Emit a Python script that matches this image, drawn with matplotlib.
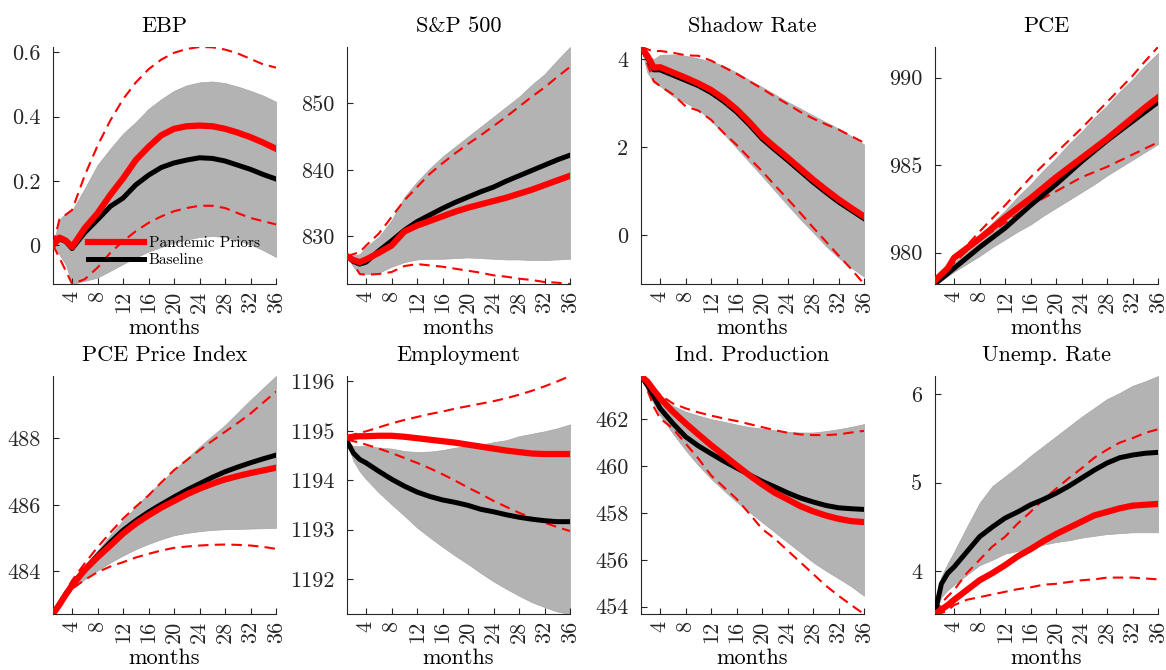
import matplotlib
matplotlib.use("Agg")
import matplotlib.pyplot as plt
import numpy as np

plt.rcParams["font.family"] = "cmr10"
plt.rcParams["mathtext.fontset"] = "cm"
plt.rcParams["axes.formatter.use_mathtext"] = True

months = [1, 2, 3, 4, 6, 8, 10, 12, 14, 16, 18, 20, 22, 24, 26, 28, 30, 32, 34, 36]
month_ticks = [4, 8, 12, 16, 20, 24, 28, 32, 36]

# EBP
ebp_pp = [0, 0.024, 0.015, -0.005, 0.054, 0.10, 0.157, 0.208, 0.265, 0.306, 0.342, 0.362, 0.370, 0.372, 0.370, 0.362, 0.350, 0.336, 0.319, 0.300]
ebp_base = [0, 0.02, 0.012, -0.01, 0.04, 0.08, 0.121, 0.147, 0.188, 0.218, 0.242, 0.256, 0.265, 0.272, 0.270, 0.262, 0.249, 0.236, 0.220, 0.206]
ebp_base_hi = [0, 0.08, 0.10, 0.108, 0.177, 0.25, 0.30, 0.347, 0.383, 0.424, 0.454, 0.48, 0.497, 0.506, 0.509, 0.504, 0.493, 0.48, 0.465, 0.446]
ebp_base_lo = [0, -0.028, -0.06, -0.12, -0.11, -0.10, -0.079, -0.058, -0.038, -0.019, -0.005, 0.008, 0.018, 0.026, 0.029, 0.026, 0.015, 0.003, -0.015, -0.036]
ebp_pp_hi = [0, 0.08, 0.095, 0.11, 0.218, 0.31, 0.388, 0.454, 0.506, 0.547, 0.577, 0.598, 0.61, 0.616, 0.615, 0.608, 0.596, 0.579, 0.562, 0.552]
ebp_pp_lo = [0, -0.038, -0.079, -0.12, -0.105, -0.069, -0.023, 0.013, 0.044, 0.07, 0.09, 0.106, 0.116, 0.123, 0.123, 0.116, 0.10, 0.085, 0.075, 0.065]

# S&P 500
sp_pp = [827.0, 826.4, 826.1, 826.5, 827.5, 828.6, 830.7, 831.6, 832.3, 833.0, 833.7, 834.3, 834.8, 835.3, 835.8, 836.4, 837.0, 837.7, 838.4, 839.1]
sp_base = [827.0, 826.2, 825.8, 826.1, 827.8, 829.3, 830.9, 832.2, 833.2, 834.2, 835.1, 835.9, 836.7, 837.4, 838.3, 839.1, 839.9, 840.7, 841.5, 842.2]
sp_base_hi = [827.0, 827.1, 827.3, 828.4, 829.9, 832.4, 835.9, 838.2, 840.2, 842.0, 843.5, 845.0, 846.5, 848.0, 849.5, 851.0, 852.8, 854.4, 856.5, 858.5]
sp_base_lo = [827.0, 825.4, 824.3, 824.3, 824.5, 825.4, 826.1, 826.5, 826.6, 826.6, 826.7, 826.8, 826.7, 826.6, 826.5, 826.5, 826.4, 826.4, 826.5, 826.6]
sp_pp_hi = [827.0, 827.3, 827.6, 828.6, 830.4, 832.9, 835.4, 837.4, 839.4, 841.0, 842.5, 843.9, 845.2, 846.6, 848.0, 849.5, 851.0, 852.4, 854.0, 855.5]
sp_pp_lo = [827.0, 825.9, 824.3, 824.2, 824.3, 824.6, 825.5, 825.8, 825.6, 825.4, 825.1, 824.8, 824.5, 824.1, 823.9, 823.6, 823.4, 823.1, 823.0, 822.8]

# Shadow Rate
sr_pp = [4.28, 4.08, 3.81, 3.82, 3.70, 3.58, 3.45, 3.30, 3.10, 2.86, 2.57, 2.25, 2.00, 1.76, 1.51, 1.26, 1.03, 0.81, 0.61, 0.42]
sr_base = [4.28, 4.05, 3.76, 3.76, 3.64, 3.52, 3.40, 3.24, 3.04, 2.80, 2.51, 2.19, 1.94, 1.70, 1.45, 1.20, 0.97, 0.75, 0.56, 0.37]
sr_base_hi = [4.28, 4.12, 4.00, 4.10, 4.11, 4.08, 4.02, 3.95, 3.85, 3.70, 3.53, 3.37, 3.20, 3.03, 2.88, 2.72, 2.57, 2.42, 2.25, 2.06]
sr_base_lo = [4.28, 3.70, 3.47, 3.39, 3.16, 3.01, 2.86, 2.60, 2.30, 1.98, 1.66, 1.34, 1.01, 0.68, 0.36, 0.06, -0.25, -0.52, -0.75, -0.95]
sr_pp_hi = [4.28, 4.23, 4.18, 4.19, 4.15, 4.09, 4.08, 3.97, 3.82, 3.67, 3.50, 3.33, 3.15, 2.98, 2.80, 2.65, 2.52, 2.40, 2.25, 2.10]
sr_pp_lo = [4.28, 3.89, 3.50, 3.39, 3.20, 2.93, 2.83, 2.62, 2.32, 2.05, 1.75, 1.45, 1.13, 0.82, 0.50, 0.17, -0.15, -0.47, -0.78, -1.12]

# PCE
pce_pp = [978.4, 978.75, 979.1, 979.7, 980.25, 980.8, 981.4, 982.0, 982.55, 983.1, 983.7, 984.3, 984.85, 985.4, 985.95, 986.5, 987.1, 987.7, 988.3, 988.86]
pce_base = [978.2, 978.5, 978.8, 979.1, 979.7, 980.3, 980.85, 981.4, 982.05, 982.7, 983.3, 983.9, 984.55, 985.2, 985.8, 986.4, 986.95, 987.5, 988.05, 988.6]
pce_base_hi = [978.3, 978.7, 979.05, 979.4, 980.2, 980.9, 981.7, 982.4, 983.2, 983.9, 984.7, 985.4, 986.2, 986.9, 987.7, 988.4, 989.2, 989.9, 990.7, 991.4]
pce_base_lo = [978.2, 978.4, 978.65, 978.9, 979.35, 979.8, 980.3, 980.75, 981.2, 981.6, 982.1, 982.55, 983.0, 983.45, 983.9, 984.4, 984.85, 985.3, 985.75, 986.2]
pce_pp_hi = [978.4, 978.8, 979.2, 979.6, 980.4, 981.2, 981.95, 982.7, 983.5, 984.3, 985.0, 985.7, 986.4, 987.1, 987.85, 988.6, 989.35, 990.1, 990.95, 991.75]
pce_pp_lo = [978.4, 978.75, 979.1, 979.4, 980.1, 980.7, 981.2, 981.7, 982.2, 982.7, 983.1, 983.5, 983.9, 984.3, 984.6, 984.9, 985.25, 985.6, 985.95, 986.3]

# PCE Price Index
pcepi_pp = [482.72, 483.0, 483.3, 483.58, 484.05, 484.43, 484.78, 485.14, 485.44, 485.69, 485.92, 486.12, 486.32, 486.49, 486.64, 486.77, 486.87, 486.96, 487.04, 487.12]
pcepi_base = [482.72, 483.02, 483.32, 483.6, 484.06, 484.48, 484.88, 485.24, 485.53, 485.79, 486.02, 486.24, 486.45, 486.64, 486.83, 487.0, 487.14, 487.27, 487.39, 487.5]
pcepi_base_hi = [482.72, 483.07, 483.4, 483.73, 484.2, 484.63, 485.1, 485.54, 485.95, 486.34, 486.7, 487.05, 487.4, 487.75, 488.08, 488.4, 488.78, 489.16, 489.52, 489.88]
pcepi_base_lo = [482.72, 482.98, 483.23, 483.48, 483.77, 484.03, 484.27, 484.48, 484.67, 484.83, 484.97, 485.09, 485.16, 485.21, 485.25, 485.27, 485.28, 485.29, 485.3, 485.31]
pcepi_pp_hi = [482.72, 483.07, 483.4, 483.73, 484.25, 484.73, 485.17, 485.59, 485.95, 486.29, 486.68, 487.05, 487.35, 487.65, 487.93, 488.2, 488.47, 488.75, 489.08, 489.41]
pcepi_pp_lo = [482.72, 482.98, 483.23, 483.48, 483.75, 483.98, 484.15, 484.28, 484.42, 484.53, 484.63, 484.71, 484.75, 484.78, 484.8, 484.81, 484.8, 484.78, 484.74, 484.68]

# Employment
emp_pp = [1194.86, 1194.88, 1194.89, 1194.89, 1194.90, 1194.90, 1194.88, 1194.85, 1194.82, 1194.79, 1194.76, 1194.72, 1194.68, 1194.64, 1194.60, 1194.57, 1194.54, 1194.53, 1194.53, 1194.53]
emp_base = [1194.79, 1194.55, 1194.42, 1194.35, 1194.18, 1194.02, 1193.88, 1193.76, 1193.67, 1193.60, 1193.55, 1193.49, 1193.41, 1193.36, 1193.30, 1193.25, 1193.21, 1193.18, 1193.16, 1193.16]
emp_base_hi = [1194.79, 1194.69, 1194.69, 1194.69, 1194.66, 1194.64, 1194.59, 1194.57, 1194.58, 1194.61, 1194.66, 1194.69, 1194.72, 1194.77, 1194.81, 1194.89, 1194.94, 1194.99, 1195.05, 1195.13]
emp_base_lo = [1194.79, 1194.39, 1194.18, 1194.02, 1193.75, 1193.51, 1193.28, 1193.04, 1192.84, 1192.65, 1192.47, 1192.30, 1192.12, 1191.95, 1191.80, 1191.66, 1191.53, 1191.43, 1191.34, 1191.29]
emp_pp_hi = [1194.89, 1194.92, 1194.96, 1194.99, 1195.07, 1195.15, 1195.22, 1195.28, 1195.34, 1195.39, 1195.45, 1195.50, 1195.55, 1195.60, 1195.66, 1195.73, 1195.81, 1195.90, 1196.00, 1196.11]
emp_pp_lo = [1194.82, 1194.79, 1194.76, 1194.72, 1194.64, 1194.55, 1194.45, 1194.35, 1194.24, 1194.12, 1193.99, 1193.85, 1193.72, 1193.58, 1193.46, 1193.34, 1193.24, 1193.14, 1193.05, 1192.97]

# Ind. Production
ip_pp = [463.84, 463.6, 463.24, 462.89, 462.32, 461.82, 461.35, 460.89, 460.46, 460.03, 459.61, 459.22, 458.86, 458.58, 458.29, 458.07, 457.89, 457.75, 457.65, 457.61]
ip_base = [463.84, 463.46, 462.96, 462.46, 461.82, 461.25, 460.86, 460.53, 460.21, 459.92, 459.63, 459.35, 459.11, 458.86, 458.64, 458.47, 458.32, 458.22, 458.18, 458.15]
ip_base_hi = [463.84, 463.6, 463.2, 462.9, 462.57, 462.32, 462.15, 462.0, 461.89, 461.77, 461.66, 461.6, 461.52, 461.46, 461.43, 461.43, 461.49, 461.57, 461.67, 461.79]
ip_base_lo = [463.84, 463.17, 462.67, 462.17, 461.39, 460.68, 460.03, 459.46, 458.96, 458.47, 458.04, 457.61, 457.18, 456.75, 456.33, 455.9, 455.54, 455.21, 454.87, 454.47]
ip_pp_hi = [463.84, 463.6, 463.3, 463.03, 462.67, 462.46, 462.29, 462.15, 462.03, 461.92, 461.79, 461.66, 461.53, 461.42, 461.35, 461.32, 461.32, 461.35, 461.43, 461.50]
ip_pp_lo = [463.84, 463.24, 462.53, 462.03, 461.6, 460.96, 460.32, 459.6, 459.1, 458.6, 457.97, 457.32, 456.9, 456.4, 455.9, 455.4, 454.9, 454.47, 454.07, 453.69]

# Unemp. Rate
ur_pp = [3.52, 3.57, 3.62, 3.68, 3.79, 3.90, 3.98, 4.07, 4.17, 4.25, 4.34, 4.42, 4.49, 4.56, 4.63, 4.67, 4.71, 4.74, 4.75, 4.76]
ur_base = [3.53, 3.86, 3.98, 4.05, 4.22, 4.39, 4.50, 4.60, 4.67, 4.75, 4.81, 4.88, 4.96, 5.05, 5.14, 5.22, 5.28, 5.31, 5.33, 5.34]
ur_base_hi = [3.52, 3.94, 4.09, 4.22, 4.50, 4.77, 4.96, 5.07, 5.18, 5.30, 5.41, 5.52, 5.63, 5.74, 5.84, 5.94, 6.01, 6.09, 6.14, 6.20]
ur_base_lo = [3.52, 3.71, 3.79, 3.85, 3.96, 4.07, 4.13, 4.20, 4.23, 4.27, 4.30, 4.33, 4.35, 4.38, 4.40, 4.42, 4.43, 4.44, 4.44, 4.44]
ur_pp_hi = [3.52, 3.64, 3.72, 3.79, 3.98, 4.13, 4.28, 4.39, 4.54, 4.67, 4.81, 4.93, 5.05, 5.16, 5.28, 5.37, 5.45, 5.50, 5.56, 5.60]
ur_pp_lo = [3.52, 3.53, 3.56, 3.62, 3.68, 3.71, 3.74, 3.77, 3.80, 3.82, 3.85, 3.86, 3.88, 3.90, 3.91, 3.93, 3.93, 3.93, 3.92, 3.91]

titles = ["EBP", "S&P 500", "Shadow Rate", "PCE",
          "PCE Price Index", "Employment", "Ind. Production", "Unemp. Rate"]
yticks = [[0, 0.2, 0.4, 0.6], [830, 840, 850], [0, 2, 4], [980, 985, 990],
          [484, 486, 488], [1192, 1193, 1194, 1195, 1196], [454, 456, 458, 460, 462], [4, 5, 6]]
ytick_labels = [["0", "0.2", "0.4", "0.6"], ["830", "840", "850"], ["0", "2", "4"], ["980", "985", "990"],
                ["484", "486", "488"], ["1192", "1193", "1194", "1195", "1196"],
                ["454", "456", "458", "460", "462"], ["4", "5", "6"]]

panels = [
    (ebp_pp, ebp_base, ebp_base_lo, ebp_base_hi, ebp_pp_lo, ebp_pp_hi),
    (sp_pp, sp_base, sp_base_lo, sp_base_hi, sp_pp_lo, sp_pp_hi),
    (sr_pp, sr_base, sr_base_lo, sr_base_hi, sr_pp_lo, sr_pp_hi),
    (pce_pp, pce_base, pce_base_lo, pce_base_hi, pce_pp_lo, pce_pp_hi),
    (pcepi_pp, pcepi_base, pcepi_base_lo, pcepi_base_hi, pcepi_pp_lo, pcepi_pp_hi),
    (emp_pp, emp_base, emp_base_lo, emp_base_hi, emp_pp_lo, emp_pp_hi),
    (ip_pp, ip_base, ip_base_lo, ip_base_hi, ip_pp_lo, ip_pp_hi),
    (ur_pp, ur_base, ur_base_lo, ur_base_hi, ur_pp_lo, ur_pp_hi),
]

axis_color = "#262626"
W, H = 1166, 670
lefts = [53, 347, 641, 935]
bottoms = [284, 614]
tops = [47, 376]
aw = 223

fig = plt.figure(figsize=(W / 100, H / 100), dpi=100)

for i, (pp, base, blo, bhi, plo, phi) in enumerate(panels):
    r, c = divmod(i, 4)
    ax = fig.add_axes([lefts[c] / W, 1 - bottoms[r] / H, aw / W, (bottoms[r] - tops[r]) / H])
    ax.fill_between(months, blo, bhi, color="#b3b3b3", linewidth=0.5, edgecolor="#a6a6a6", zorder=1)
    ax.plot(months, plo, color="red", lw=1.5, dashes=(5, 3), zorder=2)
    ax.plot(months, phi, color="red", lw=1.5, dashes=(5, 3), zorder=2)
    lb, = ax.plot(months, base, color="black", lw=3.6, zorder=3, label="Baseline")
    lp, = ax.plot(months, pp, color="red", lw=4.5, zorder=4, label="Pandemic Priors")

    allv = np.concatenate([pp, base, blo, bhi, plo, phi])
    ax.set_xlim(months[0], months[-1])
    ax.set_ylim(allv.min(), allv.max())
    ax.set_xticks(month_ticks)
    ax.set_xticklabels([str(t) for t in month_ticks], rotation=90)
    ax.set_yticks(yticks[i])
    ax.set_yticklabels(ytick_labels[i])

    for s in ["top", "right"]:
        ax.spines[s].set_visible(False)
    for s in ["left", "bottom"]:
        ax.spines[s].set_color(axis_color)
        ax.spines[s].set_linewidth(0.8)
    ax.tick_params(direction="in", length=4, width=0.8, color=axis_color,
                   labelcolor=axis_color, labelsize=16)
    ax.tick_params(axis="y", pad=9)
    ax.tick_params(axis="x", pad=5)
    ax.set_title(titles[i], fontsize=16, color="black", pad=11)
    ax.set_xlabel("months", fontsize=16, color="black", labelpad=4)

    if i == 0:
        ax.legend(handles=[lp, lb], loc="lower left", bbox_to_anchor=(0.155, 0.07),
                  frameon=False, fontsize=11, handlelength=3.7, handletextpad=0.3,
                  labelspacing=0.25, borderpad=0, borderaxespad=0)

fig.savefig("out.png", dpi=100)
